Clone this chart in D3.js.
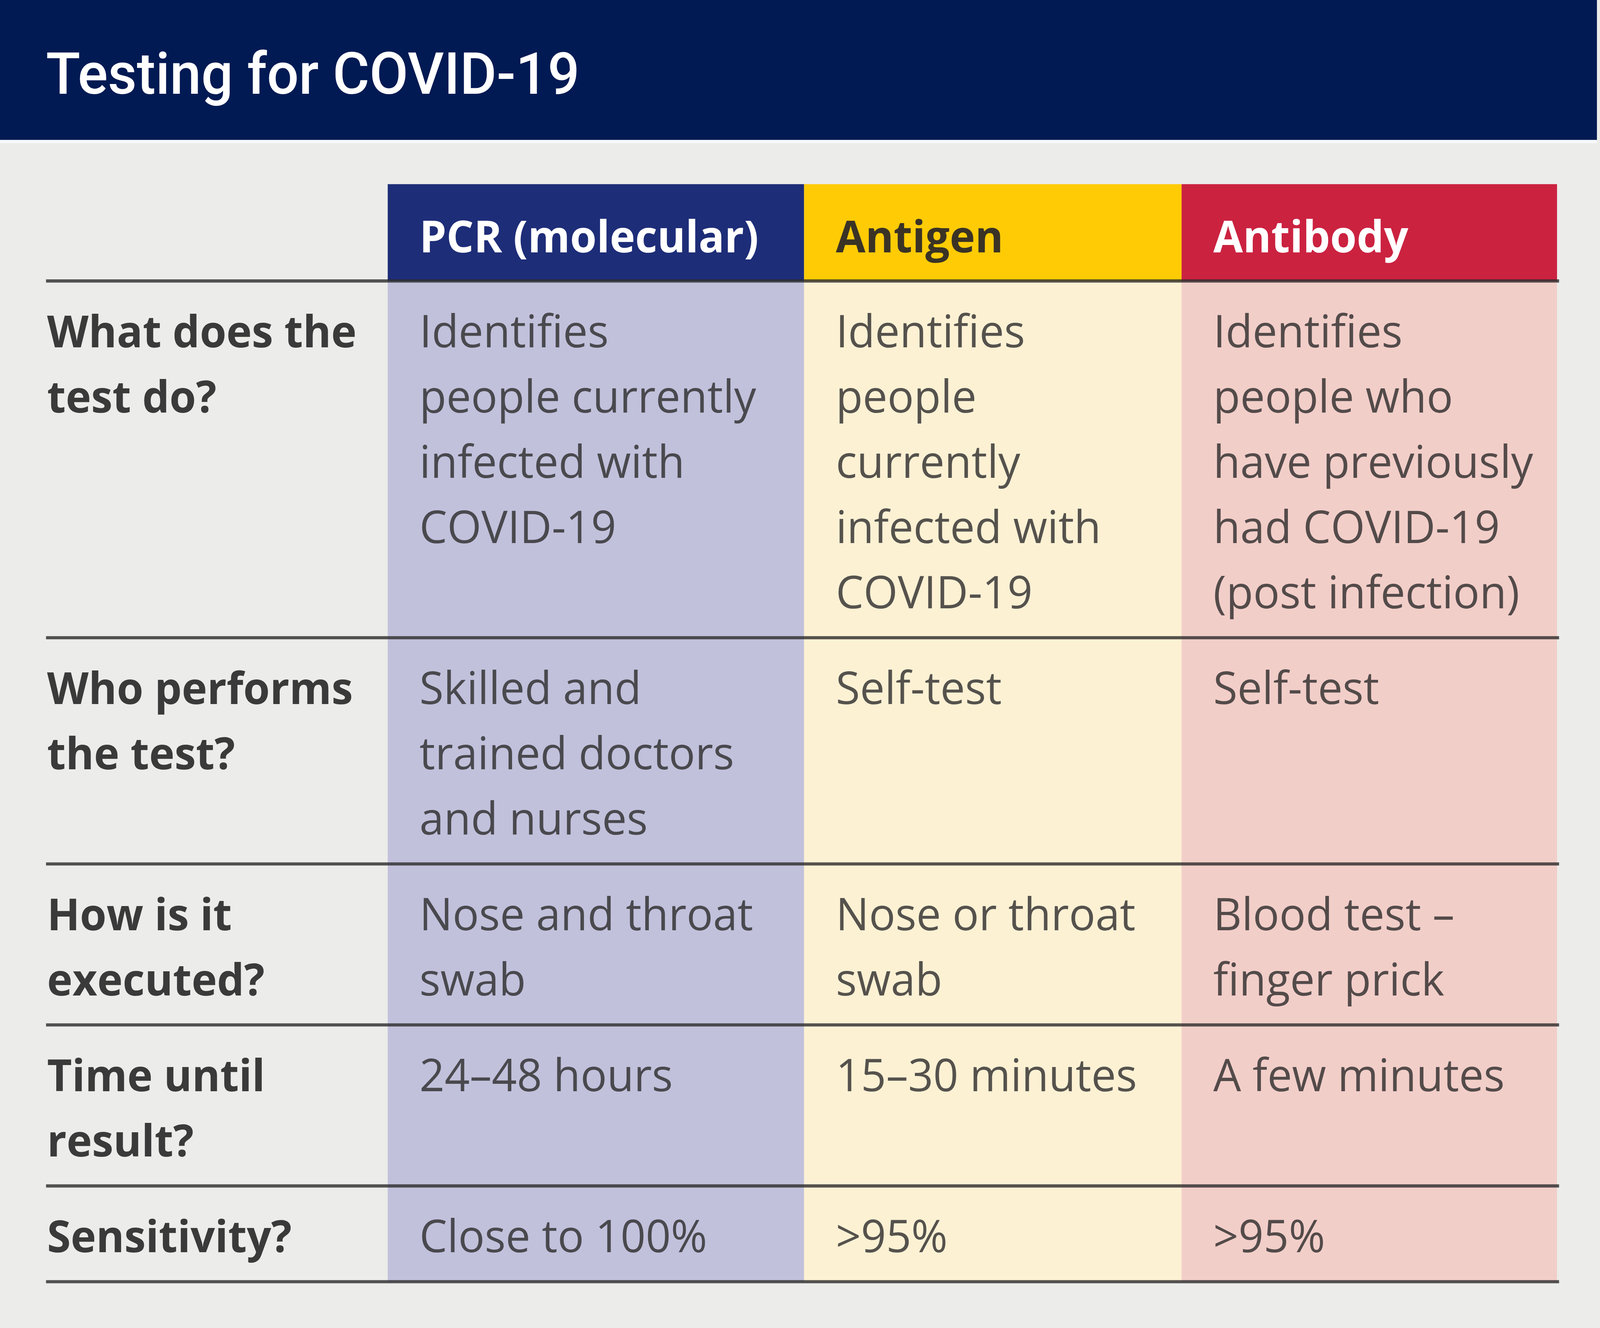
<!DOCTYPE html>
<html>
<head>
<meta charset="utf-8">
<script src="https://cdn.jsdelivr.net/npm/d3@7"></script>
<style>
  html, body { margin: 0; padding: 0; background: #ececea; overflow: hidden; }
  svg { display: block; width: 100vw; height: 100vh; }
</style>
</head>
<body>
<div id="chart"></div>
<script>
// data
const title = 'Testing for COVID-19'
const tests = ['PCR (molecular)', 'Antigen', 'Antibody']
const questions = [
  ['What does the', 'test do?'],
  ['Who performs', 'the test?'],
  ['How is it', 'executed?'],
  ['Time until', 'result?'],
  ['Sensitivity?']
]
const pcrCells = [
  ['Identifies', 'people currently', 'infected with', 'COVID-19'],
  ['Skilled and', 'trained doctors', 'and nurses'],
  ['Nose and throat', 'swab'],
  ['24\u201348 hours'],
  ['Close to 100%']
]
const antigenCells = [
  ['Identifies', 'people', 'currently', 'infected with', 'COVID-19'],
  ['Self-test'],
  ['Nose or throat', 'swab'],
  ['15\u201330 minutes'],
  ['>95%']
]
const antibodyCells = [
  ['Identifies', 'people who', 'have previously', 'had COVID-19', '(post infection)'],
  ['Self-test'],
  ['Blood test \u2013', 'finger prick'],
  ['A few minutes'],
  ['>95%']
]

// style / layout (drawn in reference units, stretched to the window)
const VW = 1564, VH = 1262
const headFill = ['#1e2d78', '#ffcb05', '#cb2240']
const bodyFill = ['#c1c1dc', '#fdf1d4', '#f2cec9']
const headText = ['#ffffff', '#3a3325', '#ffffff']
const bodyFont = '"Open Sans", Roboto, sans-serif'
const titleFont = 'Roboto, "Open Sans", sans-serif'
const fs = 43
const lineH = 62
const rowPad = 29

const cells = [pcrCells, antigenCells, antibodyCells]

const svg = d3.select('#chart').append('svg')
  .attr('viewBox', `0 0 ${VW} ${VH}`)
  .attr('preserveAspectRatio', 'none')

svg.append('rect').attr('width', VW).attr('height', VH).attr('fill', '#ececea')

// title band
svg.append('rect').attr('x', 0).attr('y', 0).attr('width', 1561).attr('height', 133).attr('fill', '#011a53')
svg.append('rect').attr('x', 0).attr('y', 133).attr('width', 1561).attr('height', 3).attr('fill', '#f6f8fa')
svg.append('text')
  .attr('x', 45).attr('y', 89)
  .attr('fill', '#ffffff')
  .style('font-family', titleFont).style('font-weight', 500).style('font-size', '55px')
  .text(title)

// columns
const x = d3.scaleOrdinal().domain(tests).range([379, 786, 1155])
const colW = d3.scaleOrdinal().domain(tests).range([407, 369, 367])

// rows: height grows with the number of text lines
const nLines = questions.map((q, i) => d3.max([q.length, ...cells.map(c => c[i].length)]))
const headTop = 175, headBot = 267
const rowEdges = [headBot]
nLines.forEach(n => rowEdges.push(rowEdges[rowEdges.length - 1] + rowPad + lineH * n))
const rowTop = i => rowEdges[i]
const tableBot = rowEdges[rowEdges.length - 1]

// column backgrounds
svg.selectAll('rect.body')
  .data(tests).enter().append('rect')
  .attr('class', 'body')
  .attr('x', d => x(d)).attr('y', headBot)
  .attr('width', d => colW(d)).attr('height', tableBot - headBot)
  .attr('fill', (d, i) => bodyFill[i])

svg.selectAll('rect.head')
  .data(tests).enter().append('rect')
  .attr('class', 'head')
  .attr('x', d => x(d)).attr('y', headTop)
  .attr('width', d => colW(d)).attr('height', headBot - headTop)
  .attr('fill', (d, i) => headFill[i])

svg.selectAll('text.head')
  .data(tests).enter().append('text')
  .attr('class', 'head')
  .attr('x', d => x(d) + 31).attr('y', 240)
  .attr('fill', (d, i) => headText[i])
  .style('font-family', bodyFont).style('font-weight', 700).style('font-size', '42px')
  .text(d => d)

// horizontal rules
svg.selectAll('line.rule')
  .data(rowEdges).enter().append('line')
  .attr('class', 'rule')
  .attr('x1', 45).attr('x2', 1524)
  .attr('y1', d => d).attr('y2', d => d)
  .attr('stroke', '#2a2a2a').attr('stroke-opacity', 0.8).attr('stroke-width', 3)

// row labels
const lab = svg.selectAll('g.label')
  .data(questions).enter().append('g')
  .attr('class', 'label')
lab.selectAll('text')
  .data((d, i) => d.map((t, j) => ({ t, i, j })))
  .enter().append('text')
  .attr('x', 46)
  .attr('y', d => rowTop(d.i) + 63 + lineH * d.j)
  .attr('fill', '#3a3a3a')
  .style('font-family', bodyFont).style('font-weight', 700).style('font-size', '42px')
  .text(d => d.t)

// cell texts
tests.forEach((test, c) => {
  const g = svg.append('g').attr('class', 'col')
  const items = []
  cells[c].forEach((lines, i) => lines.forEach((t, j) => items.push({ t, i, j })))
  g.selectAll('text')
    .data(items).enter().append('text')
    .attr('x', x(test) + 31)
    .attr('y', d => rowTop(d.i) + 63 + lineH * d.j)
    .attr('fill', '#2a2a2a').attr('fill-opacity', 0.8)
    .style('font-family', bodyFont).style('font-weight', 400).style('font-size', fs + 'px')
    .text(d => d.t)
})
</script>
</body>
</html>
